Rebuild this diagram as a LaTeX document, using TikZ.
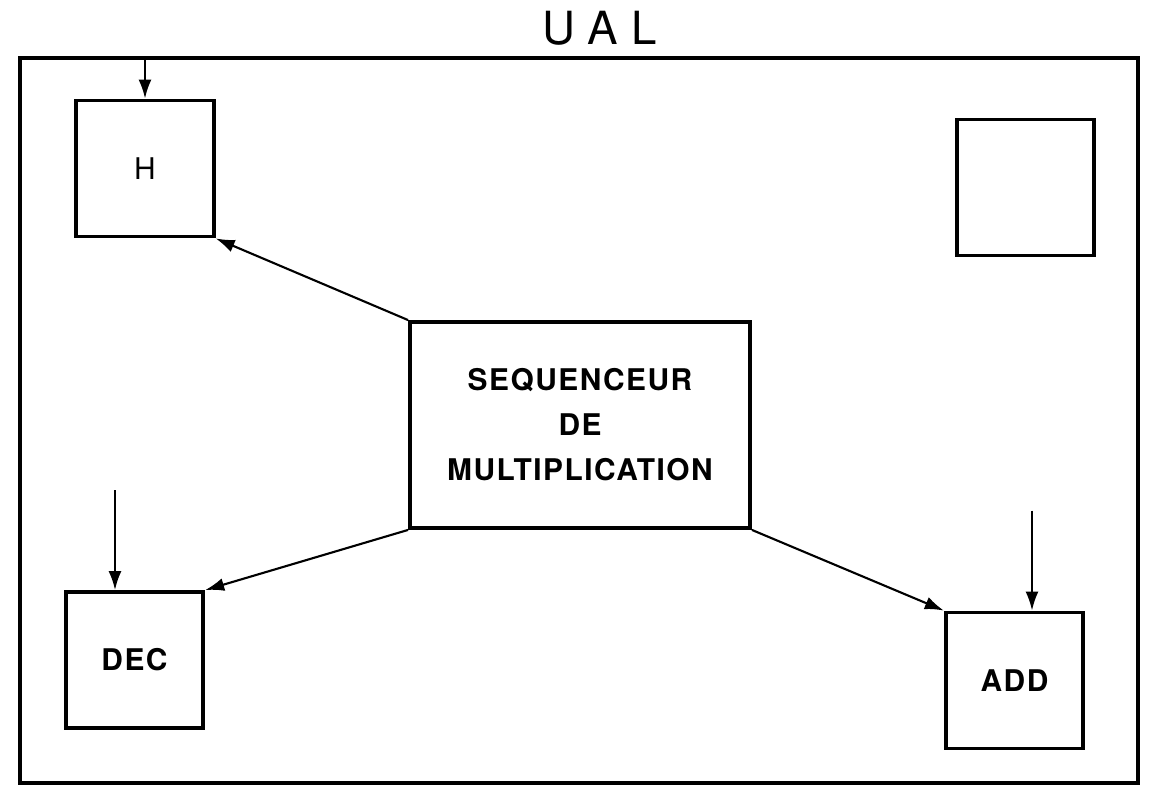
\documentclass[tikz,border=0pt]{standalone}
\usepackage{fontspec}
\setmainfont{TeX Gyre Heros}
\newfontfamily\boxfont[LetterSpace=5]{TeX Gyre Heros}
\newfontfamily\titlefont[LetterSpace=30]{TeX Gyre Heros}
\newfontfamily\plainfont{TeX Gyre Heros}
\usetikzlibrary{arrows.meta}

\begin{document}
\begin{tikzpicture}[
    unit/.style={draw, line width=2.2pt, minimum width=2.75cm, minimum height=2.72cm,
                 inner sep=0pt, font=\boxfont\bfseries\fontsize{17}{20}\selectfont},
    link/.style={-{Latex[length=0.38cm, width=0.26cm]}, line width=1.2pt}
  ]
    \useasboundingbox (0,0) rectangle (22.98,-16);

    % Frame and title
    \draw [line width=2.3pt] (0.4,-1.16) rectangle (22.76,-15.66);
    \node (ual) at (12.0,-0.56) {\titlefont\fontsize{26}{30}\selectfont UAL};

    % Sequencer
    \node [draw, line width=2.2pt, minimum width=6.8cm, minimum height=4.12cm,
           align=center, font=\boxfont\bfseries\fontsize{17}{25.6}\selectfont]
          (seq) at (11.6,-8.5) {SEQUENCEUR\\DE\\MULTIPLICATION};

    % Units
    \node [unit] (h) at (2.9,-3.37) {\plainfont\mdseries H};
    \node [unit] (free) at (20.51,-3.75) {};
    \node [unit] (dec) at (2.69,-13.2) {DEC};
    \node [unit] (add) at (20.29,-13.61) {ADD};

    % Inputs
    \coordinate (hin) at ([yshift=0.8cm]h.north);
    \coordinate (decin) at ([xshift=-0.39cm, yshift=2cm]dec.north);
    \coordinate (decend) at ([xshift=-0.39cm]dec.north);
    \coordinate (addin) at ([xshift=0.35cm, yshift=2cm]add.north);
    \coordinate (addend) at ([xshift=0.35cm]add.north);
    \draw [link] (hin) -- (h.north);
    \draw [link] (decin) -- (decend);
    \draw [link] (addin) -- (addend);

    % Sequencer outputs
    \draw [link] (seq.north west) -- (h.south east);
    \draw [link] (seq.south west) -- (dec.north east);
    \draw [link] (seq.south east) -- (add.north west);
\end{tikzpicture}
\end{document}
